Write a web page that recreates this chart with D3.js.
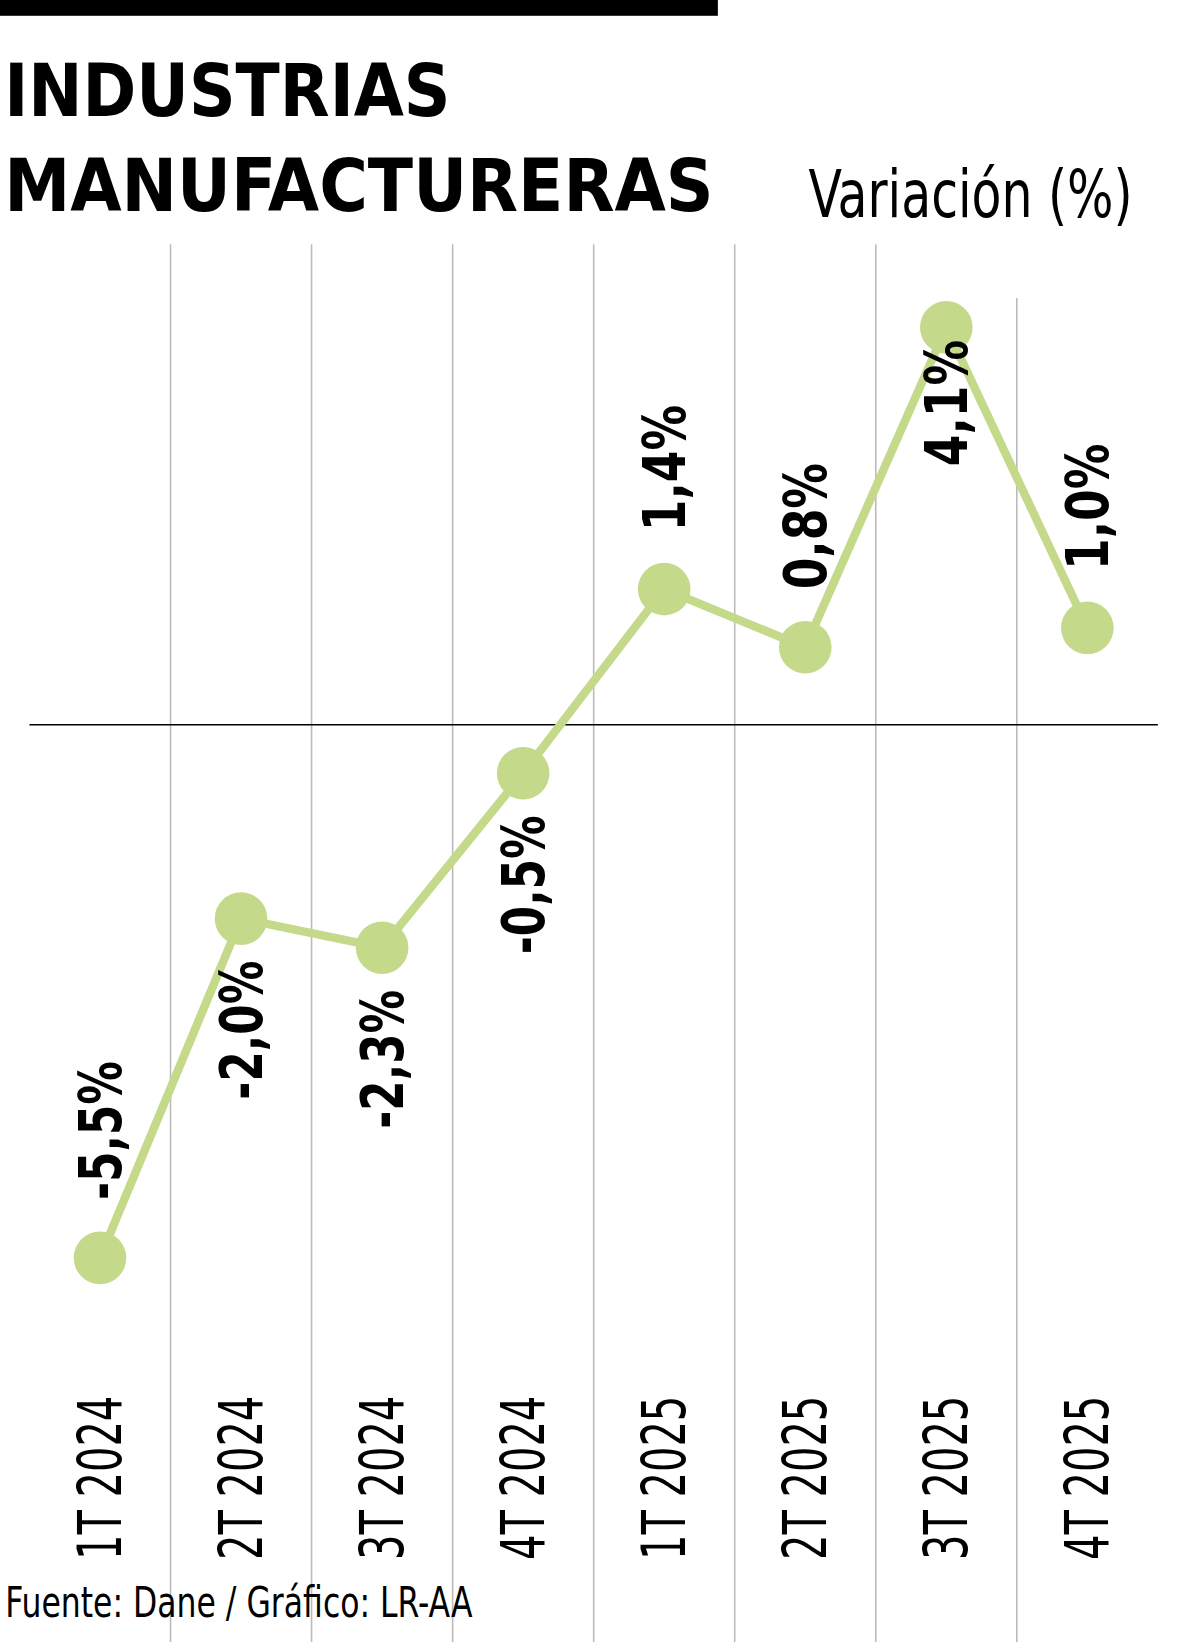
<!DOCTYPE html>
<html><head><meta charset="utf-8">
<script src="https://cdn.jsdelivr.net/npm/d3@7/dist/d3.min.js"></script>
<style>body{margin:0;background:#fff}svg{display:block}
text{font-family:"DejaVu Sans Condensed","Liberation Sans Narrow",sans-serif;font-stretch:condensed}</style>
</head><body><svg id="c" width="1200" height="1650"></svg>
<script>
const categories=["1T 2024","2T 2024","3T 2024","4T 2024","1T 2025","2T 2025","3T 2025","4T 2025"];
const values=[-5.5,-2.0,-2.3,-0.5,1.4,0.8,4.1,1.0];
const labels=["-5,5%","-2,0%","-2,3%","-0,5%","1,4%","0,8%","4,1%","1,0%"];
const placement=["above","below","below","below","above","above","below","above"];

const root=d3.select("#c");
const svg=root.append("g").attr("transform","scale(1.0526)");
const x=d3.scaleBand().domain(categories).range([28,1100]);
const y=d3.scaleLinear().domain([-5.5,4.1]).range([1195,311]);
const cx=d=>x(d)+x.bandwidth()/2;

svg.append("rect").attr("x",0).attr("y",0).attr("width",682).attr("height",15).attr("fill","#000");
svg.append("text").attr("x",4).attr("y",110).attr("font-size",70).attr("font-weight","bold").attr("textLength",424).attr("lengthAdjust","spacingAndGlyphs").text("INDUSTRIAS");
svg.append("text").attr("x",4).attr("y",200).attr("font-size",70).attr("font-weight","bold").attr("textLength",674).attr("lengthAdjust","spacingAndGlyphs").text("MANUFACTURERAS");
svg.append("text").attr("x",768).attr("y",206).attr("font-size",62).attr("textLength",308).attr("lengthAdjust","spacingAndGlyphs").text("Variación (%)");

categories.slice(1).forEach(c=>{
  svg.append("line").attr("x1",x(c)).attr("x2",x(c)).attr("y1",c==="4T 2025"?283:232).attr("y2",1560)
    .attr("stroke","#bbb").attr("stroke-width",1.5);
});
svg.append("line").attr("x1",28).attr("x2",1100).attr("y1",y(0)).attr("y2",y(0)).attr("stroke","#000").attr("stroke-width",1.5);

const line=d3.line().x((d,i)=>cx(categories[i])).y(d=>y(d));
svg.append("path").datum(values).attr("d",line).attr("fill","none").attr("stroke","#c5d98a").attr("stroke-width",8);
svg.selectAll("circle").data(values).join("circle").attr("cx",(d,i)=>cx(categories[i])).attr("cy",d=>y(d)).attr("r",25).attr("fill","#c5d98a");

svg.selectAll("text.v").data(values).join("text").attr("class","v")
  .attr("font-size",56).attr("font-weight","bold")
  .attr("textLength",(d,i)=>labels[i].startsWith("-")?132:120).attr("lengthAdjust","spacingAndGlyphs")
  .attr("text-anchor",(d,i)=>placement[i]==="above"?"start":"end")
  .attr("transform",(d,i)=>{const px=cx(categories[i])+20;const py=placement[i]==="above"?y(d)-55:y(d)+(i===6?12:40);return `translate(${px},${py}) rotate(-90)`;})
  .text((d,i)=>labels[i]);

svg.selectAll("text.c").data(categories).join("text").attr("class","c")
  .attr("font-size",58).attr("text-anchor","start").attr("textLength",156).attr("lengthAdjust","spacingAndGlyphs")
  .attr("transform",d=>`translate(${cx(d)+20},1482) rotate(-90)`).text(d=>d);

svg.append("text").attr("x",5).attr("y",1540).attr("font-size",40).attr("textLength",444).attr("lengthAdjust","spacingAndGlyphs").attr("y",1536).text("Fuente: Dane / Gráfico: LR-AA");
</script></body></html>
